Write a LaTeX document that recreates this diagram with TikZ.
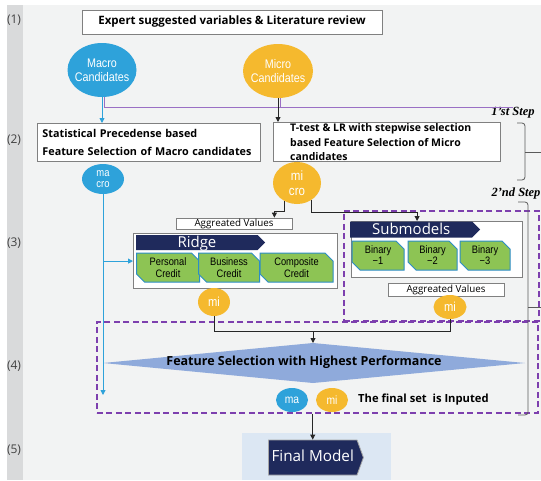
\documentclass[tikz,border=0pt]{standalone}
\usepackage{fontspec}
\setmainfont{Open Sans}
\newfontfamily\narrowfont{Liberation Sans}[FakeStretch=0.86]
\newfontfamily\stepfont{Liberation Serif}
\usepackage{tikz}
\usetikzlibrary{shapes.geometric,shapes.symbols,shapes.misc,arrows.meta,calc}
\definecolor{pagebg}{HTML}{F2F3F3}
\definecolor{stripbg}{HTML}{D9DADB}
\definecolor{macblue}{HTML}{2EA2DA}
\definecolor{micyel}{HTML}{F5B92E}
\definecolor{navy}{HTML}{1F2A5C}
\definecolor{cellgreen}{HTML}{8DC454}
\definecolor{cellrim}{HTML}{2C8DC6}
\definecolor{grpviolet}{HTML}{7D3FAE}
\definecolor{lineviolet}{HTML}{9A6FC4}
\definecolor{selblue}{HTML}{8FAADB}
\definecolor{finalbg}{HTML}{DCE7F3}
\definecolor{rimgray}{HTML}{808080}
\definecolor{brkgray}{HTML}{5A5A5A}

\begin{document}
\begin{tikzpicture}[x=1pt,y=-1pt,
  txtbox/.style={draw=rimgray,fill=white,line width=0.9pt,inner sep=0pt,anchor=north west},
  btxt/.style={font=\bfseries\fontsize{10.5}{14.5}\selectfont,align=left,inner sep=0pt},
  cand/.style={ellipse,inner sep=0pt,text=white,align=center,
    font=\narrowfont\fontsize{12.5}{14}\selectfont},
  ma/.style={cand,fill=macblue},
  mi/.style={cand,fill=micyel},
  panel/.style={draw=rimgray,fill=white,line width=1.2pt,anchor=north west,inner sep=0pt},
  banner/.style={signal,signal to=east,fill=navy,text=white,inner sep=0pt,anchor=west,
    font=\fontsize{15}{16}\selectfont,text height=12.5pt,text depth=2.5pt},
  cell/.style={chamfered rectangle,chamfered rectangle corners={north east,south west},
    chamfered rectangle xsep=4pt,chamfered rectangle ysep=4pt,fill=cellgreen,draw=cellrim,
    line width=1pt,inner sep=0pt,minimum height=29pt,align=center,
    font=\narrowfont\fontsize{10.8}{12}\selectfont},
  aggbox/.style={draw=rimgray,fill=white,line width=0.8pt,inner sep=0pt,minimum width=116pt,
    font=\fontsize{9.8}{10}\selectfont,text height=6.5pt,text depth=1.5pt},
  grp/.style={draw=grpviolet,dash pattern=on 6pt off 3.5pt,line width=1.7pt,anchor=north west,inner sep=0pt},
  conn/.style={black!85,line width=0.9pt},
  arr/.style={conn,-{Triangle[length=5pt,width=5pt]}},
  bluearr/.style={macblue,line width=0.9pt,-{Triangle[length=5pt,width=5pt]}},
  vio/.style={lineviolet,line width=0.8pt},
  brk/.style={brkgray,line width=0.8pt,rounded corners=3pt},
  lvl/.style={font=\fontsize{12}{14}\selectfont,text=black!75},
  steptxt/.style={font=\stepfont\bfseries\itshape\fontsize{12.5}{14}\selectfont}]
\useasboundingbox (0,0) rectangle (541,480);
% page and the level strip
\fill[white] (0,0) rectangle (541,480);
\fill[pagebg] (23,5) rectangle (541,480);
\fill[stripbg] (7,5) rectangle (23,480);
\foreach \n/\y in {1/20,2/140,3/243,4/366,5/450} \node[lvl] (lvl\n) at (14,\y) {(\n)};
% (1) sources
\node[txtbox,anchor=center,minimum width=300pt,minimum height=24pt,
  font=\bfseries\fontsize{11.5}{13}\selectfont] (expert) at (232,22)
  {Expert suggested variables \& Literature review};
\node[ma,minimum width=69pt,minimum height=54pt,inner xsep=-3pt] (macro) at (102,70) {Macro\\Candidates};
\node[mi,minimum width=70pt,minimum height=54pt,inner xsep=-3pt] (micro) at (278,71) {Micro\\Candidates};
% (2) first step
\node[txtbox,minimum width=223pt,minimum height=38pt,text width=213pt,inner xsep=5pt,
  btxt,font=\bfseries\fontsize{10.8}{18}\selectfont,anchor=north west] (statbox) at (37,123)
  {Statistical Precedense based\\Feature Selection of Macro candidates};
\node[txtbox,minimum width=227pt,minimum height=39pt] (ttest) at (273,122) {};
\node[btxt,anchor=north west] (ttesttxt) at (290,123.5)
  {T-test \& LR with stepwise selection\\based Feature Selection of Micro\\candidates};
\node[ma,minimum width=42pt,minimum height=30pt,inner ysep=-1pt,font=\narrowfont\fontsize{11}{11}\selectfont] (macro2) at (103,179) {ma\\cro};
\node[mi,minimum width=48pt,minimum height=42pt,font=\narrowfont\fontsize{13.4}{15}\selectfont] (micro2) at (297,183) {mi\\cro};
% (3) ridge and submodels
\node[grp,minimum width=195pt,minimum height=110pt] (subgrp) at (343,210) {};
\node[aggbox,minimum height=11pt] (aggL) at (234,223.5) {Aggreated Values};
\node[panel,minimum width=204pt,minimum height=55pt] (ridgebox) at (133,233) {};
\node[banner,minimum width=129pt,minimum height=15pt] (ridge) at (136,242.5) {Ridge};
\node[cell,minimum width=63pt] (pers) at (168,267.5) {Personal\\Credit};
\node[cell,minimum width=61pt] (bus) at (229,267.5) {Business\\Credit};
\node[cell,minimum width=73pt] (comp) at (296.5,267.5) {Composite\\Credit};
\node[panel,minimum width=171pt,minimum height=56pt] (subbox) at (351,221) {};
\node[banner,minimum width=130pt,minimum height=16pt] (subm) at (350,229.5) {Submodels};
\foreach \i/\x/\w in {1/378/52,2/432.5/49,3/485/50}
  \node[cell,minimum width=\w pt,font=\narrowfont\fontsize{10.8}{11}\selectfont] (bin\i) at (\x,255.5) {Binary\\−\i};
\node[aggbox,minimum height=13pt] (aggR) at (446,289.5) {Aggreated Values};
\node[mi,minimum width=32pt,minimum height=28pt,font=\narrowfont\fontsize{13}{14}\selectfont] (miL) at (214,302) {mi};
\node[mi,minimum width=33pt,minimum height=24pt,font=\narrowfont\fontsize{13}{14}\selectfont] (miR) at (450,307) {mi};
% (4) selection
\node[grp,minimum width=441pt,minimum height=91pt] (selgrp) at (96,321) {};
\coordinate (selW) at (103,363);
\coordinate (selN) at (313,343);
\coordinate (selE) at (525,363);
\coordinate (selS) at (313,383);
\fill[selblue] (selW) -- (selN) -- (selE) -- (selS) -- cycle;
\node[font=\bfseries\fontsize{12.5}{14}\selectfont] (seltxt) at (304,362) {Feature Selection with Highest Performance};
\node[ma,minimum width=32pt,minimum height=24pt,font=\narrowfont\fontsize{12}{14}\selectfont] (maset) at (292,400) {ma};
\node[mi,minimum width=32pt,minimum height=24pt,font=\narrowfont\fontsize{12}{14}\selectfont] (miset) at (332,400) {mi};
\node[font=\bfseries\fontsize{11.2}{13}\selectfont,anchor=west,inner sep=0pt] (settxt) at (358,400) {The final set~ is Inputed};
% (5) final model
\node[fill=finalbg,anchor=north west,minimum width=149pt,minimum height=47pt,inner sep=0pt] (finalbg) at (242,433) {};
\node[banner,draw=gray!70,line width=0.8pt,minimum width=95pt,minimum height=35pt,signal pointer angle=140,
  font=\fontsize{15.3}{17}\selectfont,text height=11pt,text depth=3pt] (finalm) at (268,457.5) {Final Model};
% step brackets
\node[steptxt] (step1) at (513,113) {1’st Step};
\node[steptxt] (step2) at (516,193) {2’nd Step};
\draw[brk] (517,123) -- (525,123) -- (525,180) -- (517,180);
\draw[brk] (525,152) -- (541,152);
\draw[brk] (518,202) -- (528,202) -- (528,415) -- (518,415);
\draw[brk] (528,307) -- (541,307);
% connectors
\coordinate (vioend) at (513,107);
\draw[vio] (macro.275) |- (vioend);
\draw[vio] (micro.275) -- (micro.275 |- vioend);
\draw[bluearr] (macro.south) -- (macro.south |- statbox.north);
\draw[arr] (micro.south) -- (micro.south |- ttest.north);
\coordinate (macend) at (103,395);
\draw[bluearr] (macro2.south) -- (macend);
\draw[bluearr] (macro2.south |- ridgebox.west) -- (ridgebox.west);
\coordinate (aggLin) at ($(aggL.north east)+(-18,0)$);
\draw[arr] (micro2.235) |- ($(aggLin)+(0,-6)$) -- (aggLin);
\coordinate (subin) at ($(subbox.north)+(-20,0)$);
\draw[arr] (micro2.310) |- ($(subin)+(0,-9)$) -- (subin);
\coordinate (mijoin) at (313,331);
\draw[conn] (miL.south) |- (mijoin);
\draw[conn] (miR.south) |- (mijoin);
\draw[arr] (mijoin) -- (selN);
\draw[arr] (finalm.north |- selgrp.south) -- (finalm.north);
\end{tikzpicture}
\end{document}
